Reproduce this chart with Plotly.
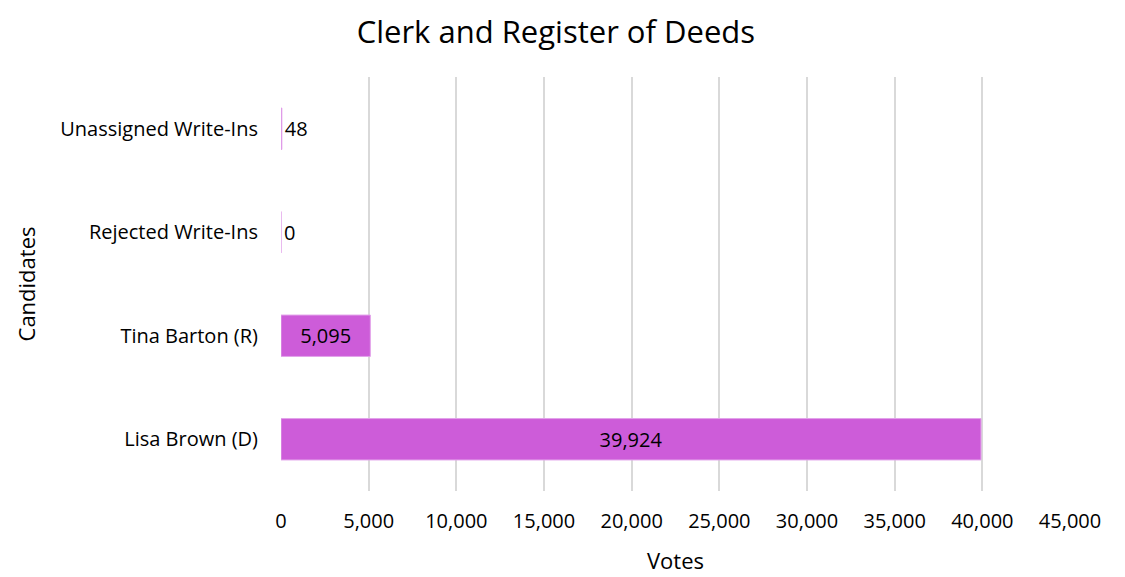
import plotly.graph_objects as go

candidates = ["Lisa Brown (D)", "Tina Barton (R)", "Rejected Write-Ins", "Unassigned Write-Ins"]
votes = [39924, 5095, 0, 48]
label_pos = ["inside", "inside", "outside", "outside"]

font = "Open Sans"

fig = go.Figure(go.Bar(
    x=votes, y=candidates, orientation="h",
    marker=dict(color="#CD5CD9", line=dict(color="#E2A3EA", width=1)),
    text=[f"{v:,}" for v in votes], textposition=label_pos,
    insidetextanchor="middle", cliponaxis=False,
    textfont=dict(family=font, size=20, color="#000000"),
))

# page body adds an 8px offset, margins compensate for it
fig.update_layout(
    width=1125, height=577,
    margin=dict(l=273, r=63, t=69, b=94),
    paper_bgcolor="white", plot_bgcolor="white",
    bargap=0.6, showlegend=False,
    font=dict(family=font, size=20, color="#000000"),
    title=dict(text="Clerk and Register of Deeds", x=0.487, xanchor="center",
               y=0.958, yanchor="middle", font=dict(size=31)),
)
fig.update_xaxes(range=[0, 45000], dtick=5000, tickformat=",",
                 showgrid=True, gridcolor="#D9D9D9", gridwidth=1.5,
                 zeroline=False, showline=False, ticks="",
                 ticklabelstandoff=16, automargin=False,
                 title=dict(text="Votes", font=dict(size=22), standoff=20),
                 tickfont=dict(size=20), fixedrange=True)
fig.update_yaxes(showgrid=False, zeroline=False, showline=False, ticks="",
                 ticklabelstandoff=22, automargin=False,
                 title=dict(text="Candidates", font=dict(size=22), standoff=18),
                 tickfont=dict(size=20))

fig.write_html("out.html")
